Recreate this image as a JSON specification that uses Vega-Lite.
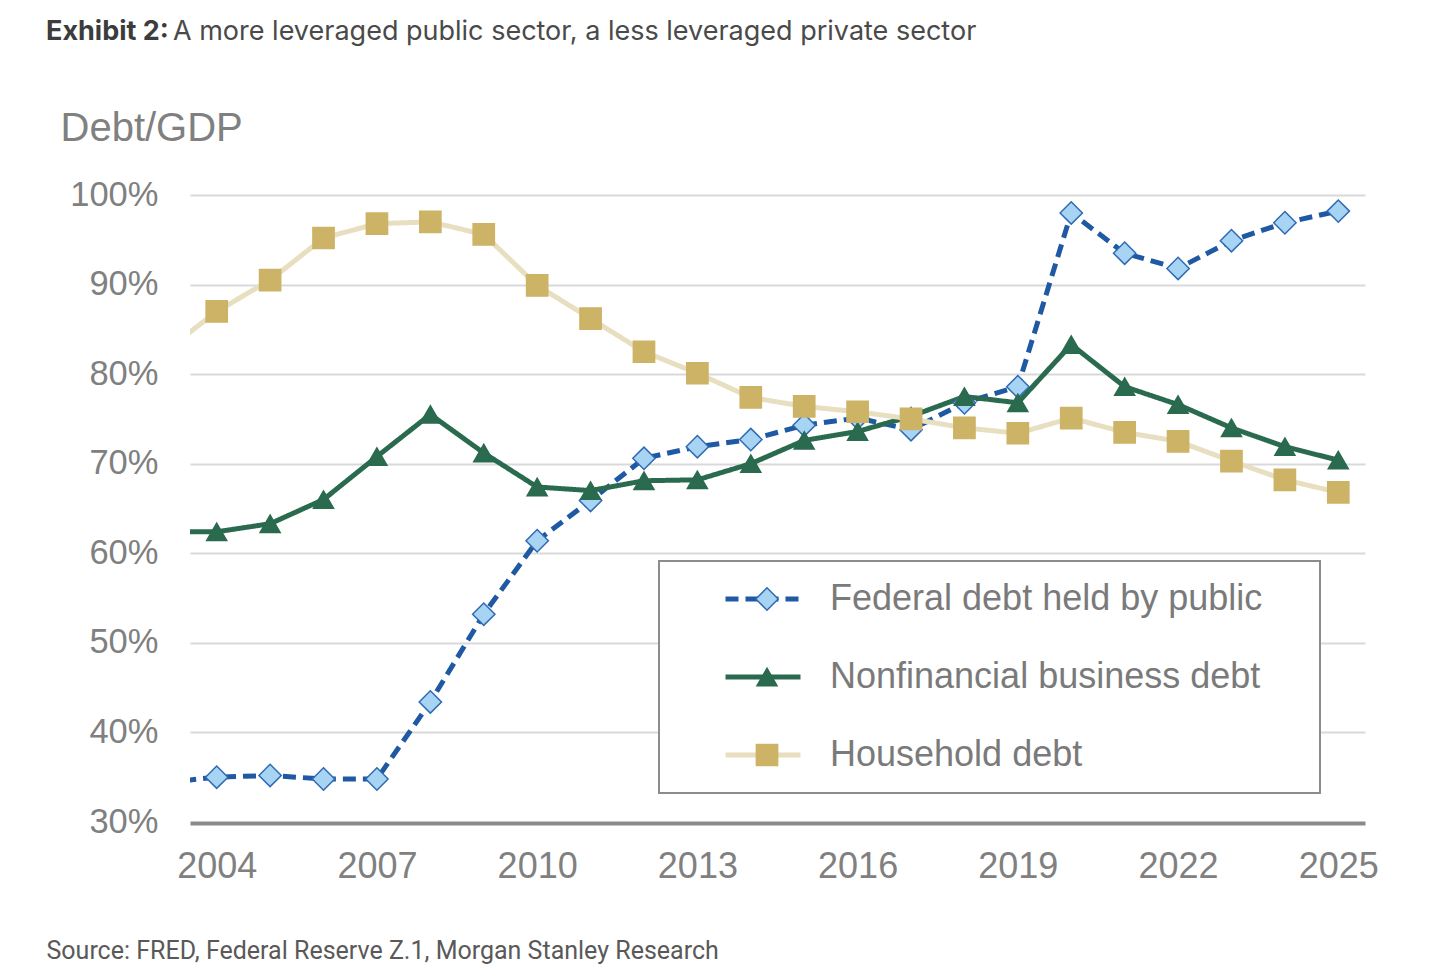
{
  "$schema": "https://vega.github.io/schema/vega-lite/v6.json",
  "width": 1175,
  "height": 627,
  "autosize": {"type": "none"},
  "padding": {"left": 190, "top": 195, "right": 75, "bottom": 156},
  "background": "#ffffff",
  "config": {"view": {"stroke": null}},
  "title": {
    "text": "A more leveraged public sector, a less leveraged private sector",
    "subtitle": "Exhibit 2:",
    "anchor": "start",
    "frame": "group",
    "dx": -144,
    "offset": 62,
    "font": "Inter",
    "fontSize": 27,
    "fontWeight": "normal",
    "color": "#4a4a4a",
    "subtitleFont": "Inter",
    "subtitleFontSize": 27,
    "subtitleFontWeight": "bold",
    "subtitleColor": "#3c3c3c",
    "subtitlePadding": -27,
    "encoding": {"dx": {"value": -17}}
  },
  "data": {
    "values": [
      {"year": 2003, "series": "Federal debt held by public", "value": 34.4},
      {"year": 2004, "series": "Federal debt held by public", "value": 35.0},
      {"year": 2005, "series": "Federal debt held by public", "value": 35.2},
      {"year": 2006, "series": "Federal debt held by public", "value": 34.8},
      {"year": 2007, "series": "Federal debt held by public", "value": 34.8},
      {"year": 2008, "series": "Federal debt held by public", "value": 43.4},
      {"year": 2009, "series": "Federal debt held by public", "value": 53.2},
      {"year": 2010, "series": "Federal debt held by public", "value": 61.4},
      {"year": 2011, "series": "Federal debt held by public", "value": 65.9},
      {"year": 2012, "series": "Federal debt held by public", "value": 70.6},
      {"year": 2013, "series": "Federal debt held by public", "value": 71.9},
      {"year": 2014, "series": "Federal debt held by public", "value": 72.7},
      {"year": 2015, "series": "Federal debt held by public", "value": 74.3},
      {"year": 2016, "series": "Federal debt held by public", "value": 75.1},
      {"year": 2017, "series": "Federal debt held by public", "value": 73.8},
      {"year": 2018, "series": "Federal debt held by public", "value": 76.8},
      {"year": 2019, "series": "Federal debt held by public", "value": 78.6},
      {"year": 2020, "series": "Federal debt held by public", "value": 98.0},
      {"year": 2021, "series": "Federal debt held by public", "value": 93.5},
      {"year": 2022, "series": "Federal debt held by public", "value": 91.8},
      {"year": 2023, "series": "Federal debt held by public", "value": 94.9},
      {"year": 2024, "series": "Federal debt held by public", "value": 96.9},
      {"year": 2025, "series": "Federal debt held by public", "value": 98.2},
      {"year": 2003, "series": "Nonfinancial business debt", "value": 62.4},
      {"year": 2004, "series": "Nonfinancial business debt", "value": 62.4},
      {"year": 2005, "series": "Nonfinancial business debt", "value": 63.3},
      {"year": 2006, "series": "Nonfinancial business debt", "value": 66.0},
      {"year": 2007, "series": "Nonfinancial business debt", "value": 70.8},
      {"year": 2008, "series": "Nonfinancial business debt", "value": 75.5},
      {"year": 2009, "series": "Nonfinancial business debt", "value": 71.2},
      {"year": 2010, "series": "Nonfinancial business debt", "value": 67.4},
      {"year": 2011, "series": "Nonfinancial business debt", "value": 67.0},
      {"year": 2012, "series": "Nonfinancial business debt", "value": 68.1},
      {"year": 2013, "series": "Nonfinancial business debt", "value": 68.2},
      {"year": 2014, "series": "Nonfinancial business debt", "value": 70.0},
      {"year": 2015, "series": "Nonfinancial business debt", "value": 72.6},
      {"year": 2016, "series": "Nonfinancial business debt", "value": 73.6},
      {"year": 2017, "series": "Nonfinancial business debt", "value": 75.3},
      {"year": 2018, "series": "Nonfinancial business debt", "value": 77.5},
      {"year": 2019, "series": "Nonfinancial business debt", "value": 76.8},
      {"year": 2020, "series": "Nonfinancial business debt", "value": 83.3},
      {"year": 2021, "series": "Nonfinancial business debt", "value": 78.6},
      {"year": 2022, "series": "Nonfinancial business debt", "value": 76.6},
      {"year": 2023, "series": "Nonfinancial business debt", "value": 74.0},
      {"year": 2024, "series": "Nonfinancial business debt", "value": 71.9},
      {"year": 2025, "series": "Nonfinancial business debt", "value": 70.4},
      {"year": 2003, "series": "Household debt", "value": 82.4},
      {"year": 2004, "series": "Household debt", "value": 87.0},
      {"year": 2005, "series": "Household debt", "value": 90.5},
      {"year": 2006, "series": "Household debt", "value": 95.2},
      {"year": 2007, "series": "Household debt", "value": 96.8},
      {"year": 2008, "series": "Household debt", "value": 97.0},
      {"year": 2009, "series": "Household debt", "value": 95.6},
      {"year": 2010, "series": "Household debt", "value": 89.9},
      {"year": 2011, "series": "Household debt", "value": 86.2},
      {"year": 2012, "series": "Household debt", "value": 82.5},
      {"year": 2013, "series": "Household debt", "value": 80.1},
      {"year": 2014, "series": "Household debt", "value": 77.4},
      {"year": 2015, "series": "Household debt", "value": 76.4},
      {"year": 2016, "series": "Household debt", "value": 75.8},
      {"year": 2017, "series": "Household debt", "value": 75.0},
      {"year": 2018, "series": "Household debt", "value": 74.0},
      {"year": 2019, "series": "Household debt", "value": 73.4},
      {"year": 2020, "series": "Household debt", "value": 75.1},
      {"year": 2021, "series": "Household debt", "value": 73.5},
      {"year": 2022, "series": "Household debt", "value": 72.5},
      {"year": 2023, "series": "Household debt", "value": 70.3},
      {"year": 2024, "series": "Household debt", "value": 68.2},
      {"year": 2025, "series": "Household debt", "value": 66.8}
    ]
  },
  "encoding": {
    "x": {
      "field": "year",
      "type": "quantitative",
      "scale": {"domain": [2003.5, 2025.5], "nice": false, "zero": false},
      "axis": {
        "values": [2004, 2007, 2010, 2013, 2016, 2019, 2022, 2025],
        "format": "d",
        "grid": false,
        "ticks": false,
        "domain": true,
        "domainColor": "#8a8a8a",
        "domainWidth": 4,
        "offset": 1,
        "labelFont": "Liberation Sans",
        "labelFontSize": 36,
        "labelColor": "#808080",
        "labelPadding": 26,
        "labelFlush": false,
        "labelOverlap": false,
        "title": "Source: FRED, Federal Reserve Z.1, Morgan Stanley Research",
        "titleFont": "Roboto",
        "titleFontSize": 25,
        "titleFontWeight": "normal",
        "titleColor": "#595959",
        "titleAngle": 0,
        "titleAlign": "left",
        "titleBaseline": "alphabetic",
        "titleX": -144,
        "titleY": 135
      }
    },
    "y": {
      "field": "value",
      "type": "quantitative",
      "scale": {"domain": [30, 100], "nice": false, "zero": false},
      "axis": {
        "values": [30, 40, 50, 60, 70, 80, 90, 100],
        "labelExpr": "datum.value + '%'",
        "grid": true,
        "gridColor": {"condition": {"test": "datum.value === 30", "value": "transparent"}, "value": "#d9d9d9"},
        "gridWidth": 2,
        "domain": false,
        "ticks": false,
        "labelFont": "Liberation Sans",
        "labelFontSize": 34.5,
        "labelColor": "#808080",
        "labelPadding": 32,
        "labelFlush": false,
        "title": "Debt/GDP",
        "titleFont": "Liberation Sans",
        "titleFontSize": 40,
        "titleFontWeight": "normal",
        "titleColor": "#808080",
        "titleAngle": 0,
        "titleAlign": "left",
        "titleBaseline": "alphabetic",
        "titleX": -130,
        "titleY": -55
      }
    }
  },
  "layer": [
    {
      "mark": {"type": "line", "clip": true, "strokeJoin": "round"},
      "encoding": {
        "color": {
          "field": "series",
          "type": "nominal",
          "scale": {
            "domain": ["Federal debt held by public", "Nonfinancial business debt", "Household debt"],
            "range": ["#1f58a3", "#2a6a4e", "#e8dec0"]
          },
          "legend": {
            "orient": "none",
            "legendX": 469,
            "legendY": 366,
            "title": null,
            "padding": 20,
            "strokeColor": "#8c8c8c",
            "fillColor": "#ffffff",
            "symbolType": "M-3.75,0H3.75",
            "symbolSize": 400,
            "symbolStrokeWidth": 5,
            "symbolOffset": 66,
            "labelFont": "Liberation Sans",
            "labelFontSize": 36,
            "labelColor": "#7a7a7a",
            "labelOffset": 49,
            "labelLimit": 900,
            "rowPadding": 42,
            "labelExpr": "datum.label + '\u00a0\u00a0\u00a0\u2009\u200b'",
            "encode": {
              "legend": {"update": {"strokeWidth": {"value": 2}}},
              "symbols": {"update": {"strokeWidth": {"signal": "datum.value === 'Household debt' ? 7 : 5"}}}
            }
          }
        },
        "strokeDash": {
          "field": "series",
          "type": "nominal",
          "scale": {
            "domain": ["Federal debt held by public", "Nonfinancial business debt", "Household debt"],
            "range": [[13, 7], [1, 0], [1, 0]]
          },
          "legend": {
            "orient": "none",
            "legendX": 469,
            "legendY": 366,
            "title": null
          }
        },
        "strokeWidth": {
          "field": "series",
          "type": "nominal",
          "scale": {
            "domain": ["Federal debt held by public", "Nonfinancial business debt", "Household debt"],
            "range": [5, 5, 7.5]
          },
          "legend": null
        }
      }
    },
    {
      "mark": {"type": "point", "filled": true, "clip": true, "strokeWidth": 1.5, "opacity": 1},
      "encoding": {
        "shape": {
          "field": "series",
          "type": "nominal",
          "scale": {"range": ["diamond", "square", "triangle-up"]},
          "legend": {
            "values": ["Federal debt held by public", "Nonfinancial business debt", "Household debt"],
            "orient": "none",
            "legendX": 469,
            "legendY": 366,
            "title": null,
            "padding": 20,
            "symbolStrokeWidth": 1.5,
            "symbolOffset": 70,
            "labelFont": "Liberation Sans",
            "labelFontSize": 36,
            "labelOpacity": 0,
            "labelOffset": 522,
            "labelLimit": 900,
            "rowPadding": 42,
            "labelExpr": "'.'"
          }
        },
        "fill": {
          "field": "series",
          "type": "nominal",
          "scale": {"range": ["#a8d4f4", "#ccb366", "#2a6a4e"]}
        },
        "stroke": {
          "field": "series",
          "type": "nominal",
          "scale": {"range": ["#2f6ab3", "#ccb366", "#2a6a4e"]}
        },
        "size": {
          "field": "series",
          "type": "nominal",
          "scale": {"range": [500, 400, 520]}
        }
      }
    }
  ]
}
